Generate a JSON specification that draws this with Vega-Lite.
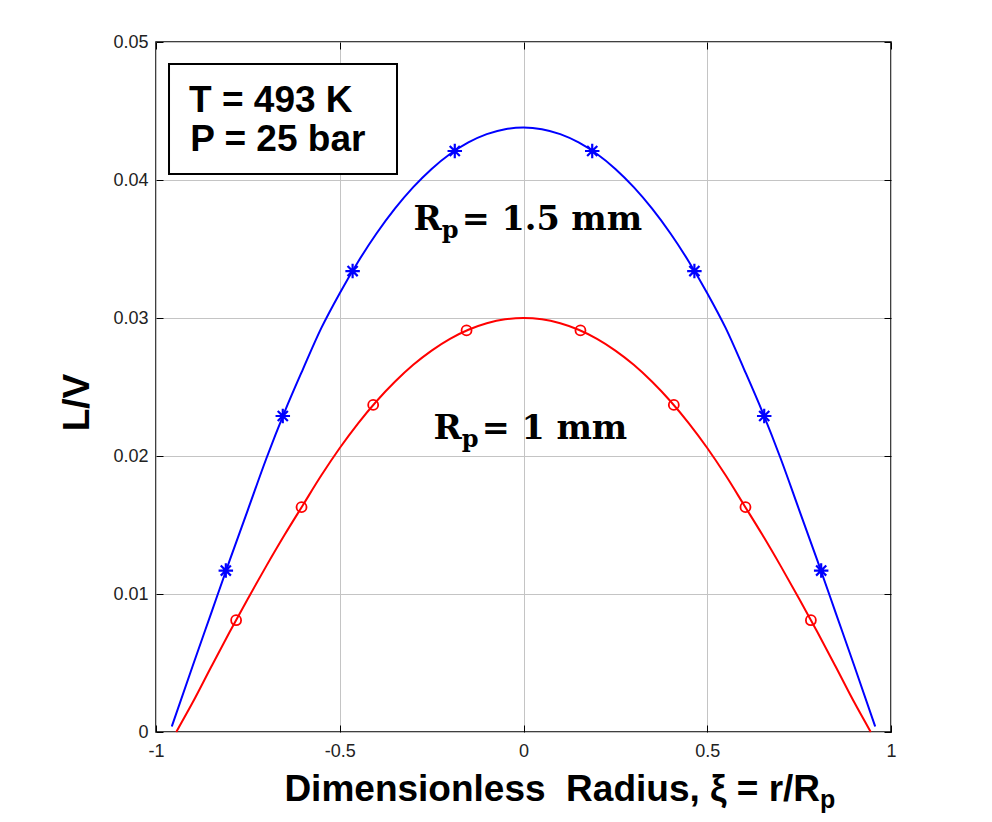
{
  "$schema": "https://vega.github.io/schema/vega-lite/v6.json",
  "width": 735,
  "height": 690,
  "autosize": {"type": "none"},
  "padding": {"left": 156, "top": 42, "right": 101, "bottom": 90},
  "background": "white",
  "config": {"view": {"stroke": "black", "strokeWidth": 1.5}, "font": "Liberation Sans"},
  "datasets": {
    "curves": [
      {"series": "1.5 mm", "x": -0.957, "y": 0.0004},
      {"series": "1.5 mm", "x": -0.9, "y": 0.0048},
      {"series": "1.5 mm", "x": -0.85, "y": 0.0086},
      {"series": "1.5 mm", "x": -0.8, "y": 0.0124},
      {"series": "1.5 mm", "x": -0.75, "y": 0.0161},
      {"series": "1.5 mm", "x": -0.7, "y": 0.0198},
      {"series": "1.5 mm", "x": -0.65, "y": 0.0232},
      {"series": "1.5 mm", "x": -0.6, "y": 0.0263},
      {"series": "1.5 mm", "x": -0.55, "y": 0.02928},
      {"series": "1.5 mm", "x": -0.5, "y": 0.0318},
      {"series": "1.5 mm", "x": -0.45, "y": 0.03408},
      {"series": "1.5 mm", "x": -0.4, "y": 0.03612},
      {"series": "1.5 mm", "x": -0.35, "y": 0.03792},
      {"series": "1.5 mm", "x": -0.3, "y": 0.03948},
      {"series": "1.5 mm", "x": -0.25, "y": 0.0408},
      {"series": "1.5 mm", "x": -0.2, "y": 0.04188},
      {"series": "1.5 mm", "x": -0.15, "y": 0.04272},
      {"series": "1.5 mm", "x": -0.1, "y": 0.04332},
      {"series": "1.5 mm", "x": -0.05, "y": 0.04368},
      {"series": "1.5 mm", "x": 0, "y": 0.0438},
      {"series": "1.5 mm", "x": 0.05, "y": 0.04368},
      {"series": "1.5 mm", "x": 0.1, "y": 0.04332},
      {"series": "1.5 mm", "x": 0.15, "y": 0.04272},
      {"series": "1.5 mm", "x": 0.2, "y": 0.04188},
      {"series": "1.5 mm", "x": 0.25, "y": 0.0408},
      {"series": "1.5 mm", "x": 0.3, "y": 0.03948},
      {"series": "1.5 mm", "x": 0.35, "y": 0.03792},
      {"series": "1.5 mm", "x": 0.4, "y": 0.03612},
      {"series": "1.5 mm", "x": 0.45, "y": 0.03408},
      {"series": "1.5 mm", "x": 0.5, "y": 0.0318},
      {"series": "1.5 mm", "x": 0.55, "y": 0.02928},
      {"series": "1.5 mm", "x": 0.6, "y": 0.0263},
      {"series": "1.5 mm", "x": 0.65, "y": 0.0232},
      {"series": "1.5 mm", "x": 0.7, "y": 0.0198},
      {"series": "1.5 mm", "x": 0.75, "y": 0.0161},
      {"series": "1.5 mm", "x": 0.8, "y": 0.0124},
      {"series": "1.5 mm", "x": 0.85, "y": 0.0086},
      {"series": "1.5 mm", "x": 0.9, "y": 0.0048},
      {"series": "1.5 mm", "x": 0.957, "y": 0.0004},
      {"series": "1 mm", "x": -0.945, "y": 0},
      {"series": "1 mm", "x": -0.9, "y": 0.00215},
      {"series": "1 mm", "x": -0.85, "y": 0.00471},
      {"series": "1 mm", "x": -0.8, "y": 0.00723},
      {"series": "1 mm", "x": -0.75, "y": 0.00966},
      {"series": "1 mm", "x": -0.7, "y": 0.01202},
      {"series": "1 mm", "x": -0.65, "y": 0.01429},
      {"series": "1 mm", "x": -0.6, "y": 0.01645},
      {"series": "1 mm", "x": -0.55, "y": 0.0186},
      {"series": "1 mm", "x": -0.5, "y": 0.02058},
      {"series": "1 mm", "x": -0.45, "y": 0.02237},
      {"series": "1 mm", "x": -0.4, "y": 0.02397},
      {"series": "1 mm", "x": -0.35, "y": 0.02538},
      {"series": "1 mm", "x": -0.3, "y": 0.02661},
      {"series": "1 mm", "x": -0.25, "y": 0.02764},
      {"series": "1 mm", "x": -0.2, "y": 0.02849},
      {"series": "1 mm", "x": -0.15, "y": 0.02915},
      {"series": "1 mm", "x": -0.1, "y": 0.02962},
      {"series": "1 mm", "x": -0.05, "y": 0.02991},
      {"series": "1 mm", "x": 0, "y": 0.0300},
      {"series": "1 mm", "x": 0.05, "y": 0.02991},
      {"series": "1 mm", "x": 0.1, "y": 0.02962},
      {"series": "1 mm", "x": 0.15, "y": 0.02915},
      {"series": "1 mm", "x": 0.2, "y": 0.02849},
      {"series": "1 mm", "x": 0.25, "y": 0.02764},
      {"series": "1 mm", "x": 0.3, "y": 0.02661},
      {"series": "1 mm", "x": 0.35, "y": 0.02538},
      {"series": "1 mm", "x": 0.4, "y": 0.02397},
      {"series": "1 mm", "x": 0.45, "y": 0.02237},
      {"series": "1 mm", "x": 0.5, "y": 0.02058},
      {"series": "1 mm", "x": 0.55, "y": 0.0186},
      {"series": "1 mm", "x": 0.6, "y": 0.01645},
      {"series": "1 mm", "x": 0.65, "y": 0.01429},
      {"series": "1 mm", "x": 0.7, "y": 0.01202},
      {"series": "1 mm", "x": 0.75, "y": 0.00966},
      {"series": "1 mm", "x": 0.8, "y": 0.00723},
      {"series": "1 mm", "x": 0.85, "y": 0.00471},
      {"series": "1 mm", "x": 0.9, "y": 0.00215},
      {"series": "1 mm", "x": 0.945, "y": 0}
    ],
    "markers": [
      {"series": "1.5 mm", "x": -0.81, "y": 0.0117},
      {"series": "1.5 mm", "x": -0.655, "y": 0.0229},
      {"series": "1.5 mm", "x": -0.465, "y": 0.0334},
      {"series": "1.5 mm", "x": -0.187, "y": 0.0421},
      {"series": "1.5 mm", "x": 0.187, "y": 0.0421},
      {"series": "1.5 mm", "x": 0.465, "y": 0.0334},
      {"series": "1.5 mm", "x": 0.655, "y": 0.0229},
      {"series": "1.5 mm", "x": 0.81, "y": 0.0117},
      {"series": "1 mm", "x": -0.782, "y": 0.0081},
      {"series": "1 mm", "x": -0.604, "y": 0.0163},
      {"series": "1 mm", "x": -0.409, "y": 0.0237},
      {"series": "1 mm", "x": -0.155, "y": 0.0291},
      {"series": "1 mm", "x": 0.155, "y": 0.0291},
      {"series": "1 mm", "x": 0.409, "y": 0.0237},
      {"series": "1 mm", "x": 0.604, "y": 0.0163},
      {"series": "1 mm", "x": 0.782, "y": 0.0081}
    ]
  },
  "layer": [
    {
      "data": {"name": "curves"},
      "mark": {"type": "line", "strokeWidth": 2, "interpolate": "monotone"},
      "encoding": {
        "x": {
          "field": "x", "type": "quantitative",
          "scale": {"domain": [-1, 1], "nice": false, "zero": false},
          "axis": {
            "orient": "bottom", "values": [-1, -0.5, 0, 0.5, 1],
            "labelExpr": "datum.value < 0 ? '-' + format(-datum.value, '') : format(datum.value, '')",
            "title": null, "domain": false,
            "grid": true, "gridColor": "#c4c4c4", "gridWidth": 1,
            "ticks": true, "tickSize": -7, "tickColor": "#000000", "tickWidth": 1,
            "labelPadding": 17, "labelFont": "Liberation Sans", "labelFontSize": 18,
            "labelColor": "#222222", "labelFlush": false
          }
        },
        "y": {
          "field": "y", "type": "quantitative",
          "scale": {"domain": [0, 0.05], "nice": false, "zero": false},
          "axis": {
            "orient": "left", "values": [0, 0.01, 0.02, 0.03, 0.04, 0.05],
            "labelExpr": "format(datum.value, '')",
            "title": "L/V", "titleFont": "Liberation Sans", "titleFontSize": 37,
            "titleFontWeight": "bold", "titleColor": "#000000",
            "titleX": -68, "titleY": 360, "titleAngle": -90, "titleBaseline": "alphabetic", "titleAlign": "center",
            "domain": false,
            "grid": true, "gridColor": "#c4c4c4", "gridWidth": 1,
            "ticks": true, "tickSize": -7, "tickColor": "#000000", "tickWidth": 1,
            "labelPadding": 15, "labelFont": "Liberation Sans", "labelFontSize": 18,
            "labelColor": "#222222", "labelFlush": false
          }
        },
        "color": {
          "field": "series", "type": "nominal",
          "scale": {"domain": ["1.5 mm", "1 mm"], "range": ["#0000ff", "#ff0000"]},
          "legend": null
        }
      }
    },
    {
      "data": {"name": "markers"},
      "transform": [{"filter": "datum.series == '1.5 mm'"}],
      "mark": {
        "type": "point",
        "shape": "M-1,0L1,0M0,-1L0,1M-0.7,-0.7L0.7,0.7M-0.7,0.7L0.7,-0.7",
        "filled": false, "stroke": "#0000ff", "strokeWidth": 2.2, "size": 210, "opacity": 1
      },
      "encoding": {
        "x": {"field": "x", "type": "quantitative",
          "axis": {"orient": "top", "labels": false, "title": null, "grid": false, "domain": false,
            "values": [-1, -0.5, 0, 0.5, 1], "ticks": true, "tickSize": -7, "tickColor": "#000000"}},
        "y": {"field": "y", "type": "quantitative",
          "axis": {"orient": "right", "labels": false, "title": null, "grid": false, "domain": false,
            "values": [0, 0.01, 0.02, 0.03, 0.04, 0.05], "ticks": true, "tickSize": -7, "tickColor": "#000000"}}
      }
    },
    {
      "data": {"name": "markers"},
      "transform": [{"filter": "datum.series == '1 mm'"}],
      "mark": {"type": "point", "shape": "circle", "filled": false, "stroke": "#ff0000", "strokeWidth": 1.8, "size": 100, "opacity": 1},
      "encoding": {
        "x": {"field": "x", "type": "quantitative", "axis": null},
        "y": {"field": "y", "type": "quantitative", "axis": null}
      }
    },
    {
      "data": {"values": [{}]},
      "mark": {"type": "rect", "fill": "white", "stroke": "black", "strokeWidth": 2},
      "encoding": {
        "x": {"datum": -0.9646, "type": "quantitative", "axis": null},
        "x2": {"datum": -0.3442},
        "y": {"datum": 0.04841, "type": "quantitative", "axis": null},
        "y2": {"datum": 0.04043}
      }
    },
    {
      "data": {"values": [{}]},
      "mark": {"type": "text", "text": "T = 493 K", "font": "Liberation Sans", "fontWeight": "bold", "fontSize": 37, "align": "left", "baseline": "alphabetic", "color": "black"},
      "encoding": {"x": {"datum": -0.91, "type": "quantitative", "axis": null}, "y": {"datum": 0.04495, "type": "quantitative", "axis": null}}
    },
    {
      "data": {"values": [{}]},
      "mark": {"type": "text", "text": "P = 25 bar", "font": "Liberation Sans", "fontWeight": "bold", "fontSize": 37, "align": "left", "baseline": "alphabetic", "color": "black"},
      "encoding": {"x": {"datum": -0.907, "type": "quantitative", "axis": null}, "y": {"datum": 0.04213, "type": "quantitative", "axis": null}}
    },
    {
      "data": {"values": [{}]},
      "mark": {"type": "text", "text": "R", "font": "DejaVu Serif", "fontWeight": "bold", "fontSize": 34, "align": "right", "baseline": "alphabetic", "color": "black"},
      "encoding": {"x": {"datum": -0.2226, "type": "quantitative", "axis": null}, "y": {"datum": 0.03638, "type": "quantitative", "axis": null}}
    },
    {
      "data": {"values": [{}]},
      "mark": {"type": "text", "text": "p", "font": "DejaVu Serif", "fontWeight": "bold", "fontSize": 24, "align": "left", "baseline": "alphabetic", "dy": 8, "color": "black"},
      "encoding": {"x": {"datum": -0.2226, "type": "quantitative", "axis": null}, "y": {"datum": 0.03638, "type": "quantitative", "axis": null}}
    },
    {
      "data": {"values": [{}]},
      "mark": {"type": "text", "text": "= 1.5 mm", "font": "DejaVu Serif", "fontWeight": "bold", "fontSize": 33.5, "align": "left", "baseline": "alphabetic", "color": "black"},
      "encoding": {"x": {"datum": -0.1682, "type": "quantitative", "axis": null}, "y": {"datum": 0.03638, "type": "quantitative", "axis": null}}
    },
    {
      "data": {"values": [{}]},
      "mark": {"type": "text", "text": "R", "font": "DejaVu Serif", "fontWeight": "bold", "fontSize": 34, "align": "right", "baseline": "alphabetic", "color": "black"},
      "encoding": {"x": {"datum": -0.1682, "type": "quantitative", "axis": null}, "y": {"datum": 0.02121, "type": "quantitative", "axis": null}}
    },
    {
      "data": {"values": [{}]},
      "mark": {"type": "text", "text": "p", "font": "DejaVu Serif", "fontWeight": "bold", "fontSize": 24, "align": "left", "baseline": "alphabetic", "dy": 8, "color": "black"},
      "encoding": {"x": {"datum": -0.1682, "type": "quantitative", "axis": null}, "y": {"datum": 0.02121, "type": "quantitative", "axis": null}}
    },
    {
      "data": {"values": [{}]},
      "mark": {"type": "text", "text": "= 1 mm", "font": "DejaVu Serif", "fontWeight": "bold", "fontSize": 33.5, "align": "left", "baseline": "alphabetic", "color": "black"},
      "encoding": {"x": {"datum": -0.1137, "type": "quantitative", "axis": null}, "y": {"datum": 0.02121, "type": "quantitative", "axis": null}}
    },
    {
      "data": {"values": [{}]},
      "mark": {"type": "text", "text": "Dimensionless\u00a0 Radius, ξ = r/R", "font": "Liberation Sans", "fontWeight": "bold", "fontSize": 37, "align": "right", "baseline": "alphabetic", "color": "black"},
      "encoding": {"x": {"datum": 0.807, "type": "quantitative", "axis": null}, "y": {"datum": -0.00498, "type": "quantitative", "axis": null}}
    },
    {
      "data": {"values": [{}]},
      "mark": {"type": "text", "text": "p", "font": "Liberation Sans", "fontWeight": "bold", "fontSize": 25, "align": "left", "baseline": "alphabetic", "dy": 7, "color": "black"},
      "encoding": {"x": {"datum": 0.807, "type": "quantitative", "axis": null}, "y": {"datum": -0.00498, "type": "quantitative", "axis": null}}
    }
  ]
}
